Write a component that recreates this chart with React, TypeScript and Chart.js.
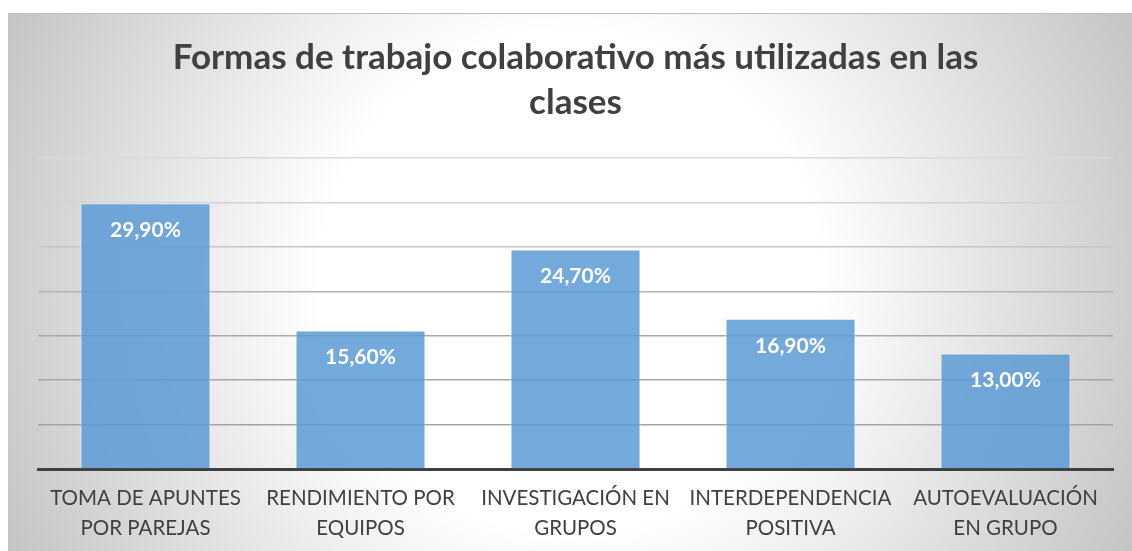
import React, { useEffect, useRef } from "react";
import { Chart, registerables } from "chart.js";

Chart.register(...registerables);

const categories: string[][] = [
  ["TOMA DE APUNTES", "POR PAREJAS"],
  ["RENDIMIENTO POR", "EQUIPOS"],
  ["INVESTIGACIÓN EN", "GRUPOS"],
  ["INTERDEPENDENCIA", "POSITIVA"],
  ["AUTOEVALUACIÓN", "EN GRUPO"],
];
const values: number[] = [29.9, 15.6, 24.7, 16.9, 13.0];
const titleLines: string[] = [
  "Formas de trabajo colaborativo más utilizadas en las",
  "clases",
];
const yMax = 35;
const yStep = 5;
const gridColors: Record<number, string> = {
  0: "rgba(0,0,0,0)",
  5: "#a3a3a3",
  10: "#a6a6a6",
  15: "#a8a8a8",
  20: "#b4b4b4",
  25: "#c6c6c6",
  30: "#d2d2d2",
  35: "#dadada",
};

const fmt = (v: number) => v.toFixed(2).replace(".", ",") + "%";

const bgPlugin = {
  id: "bgPlugin",
  beforeDraw(chart: any) {
    const { ctx, width, height } = chart;
    ctx.save();
    const cx = width / 2;
    const cy = height / 2;
    const g = ctx.createRadialGradient(cx, cy, 0, cx, cy, Math.sqrt(cx * cx + cy * cy));
    g.addColorStop(0, "#ffffff");
    g.addColorStop(0.4, "#ffffff");
    g.addColorStop(1, "#c4c4c4");
    ctx.fillStyle = g;
    ctx.fillRect(0, 0, width, height);
    ctx.strokeStyle = "#bfbfbf";
    ctx.lineWidth = 1;
    ctx.beginPath();
    ctx.moveTo(0, 0.5);
    ctx.lineTo(width, 0.5);
    ctx.stroke();
    ctx.restore();
  },
};

const valueLabels = {
  id: "valueLabels",
  afterDatasetsDraw(chart: any) {
    const { ctx } = chart;
    const meta = chart.getDatasetMeta(0);
    ctx.save();
    ctx.fillStyle = "#ffffff";
    ctx.font = "bold 21px Lato";
    ctx.textAlign = "center";
    ctx.textBaseline = "middle";
    meta.data.forEach((bar: any, i: number) => {
      ctx.fillText(fmt(values[i]), bar.x, bar.y + 27);
    });
    ctx.restore();
  },
};

export default function App() {
  const ref = useRef<HTMLCanvasElement | null>(null);
  useEffect(() => {
    if (!ref.current) return;
    const chart = new Chart(ref.current, {
      type: "bar",
      data: {
        labels: categories,
        datasets: [
          {
            data: values,
            backgroundColor: "rgba(91,155,213,0.85)",
            borderColor: "rgba(255,255,255,0.55)",
            borderWidth: 1,
            categoryPercentage: 1,
            barPercentage: 0.605,
          },
        ],
      },
      options: {
        animation: false,
        responsive: false,
        layout: { padding: { left: 30, right: 19, top: 0, bottom: -6 } },
        plugins: {
          legend: { display: false },
          tooltip: { enabled: false },
          title: {
            display: true,
            text: titleLines,
            color: "#404040",
            font: { family: "Lato", size: 35, weight: "bold", lineHeight: 45 / 35 },
            padding: { top: 22.5, bottom: 32.5 },
          },
        },
        scales: {
          x: {
            grid: { display: false, drawTicks: false },
            border: { display: true, color: "#404040", width: 3 },
            ticks: {
              color: "#404040",
              font: { family: "Lato", size: 20.5, lineHeight: 30 / 20.5 },
              padding: 14,
              maxRotation: 0,
              autoSkip: false,
            },
          },
          y: {
            min: 0,
            max: yMax,
            ticks: { display: false, stepSize: yStep },
            border: { display: false },
            grid: {
              drawTicks: false,
              lineWidth: 1.5,
              color: (c: any) => gridColors[c.tick?.value] ?? "#b0b0b0",
            },
          },
        },
      },
      plugins: [bgPlugin, valueLabels],
    });
    return () => chart.destroy();
  }, []);
  return (
    <div style={{ position: "absolute", left: 8, top: 13, width: 1124, height: 538 }}>
      <canvas ref={ref} width={1124} height={538} style={{ display: "block" }} />
    </div>
  );
}
